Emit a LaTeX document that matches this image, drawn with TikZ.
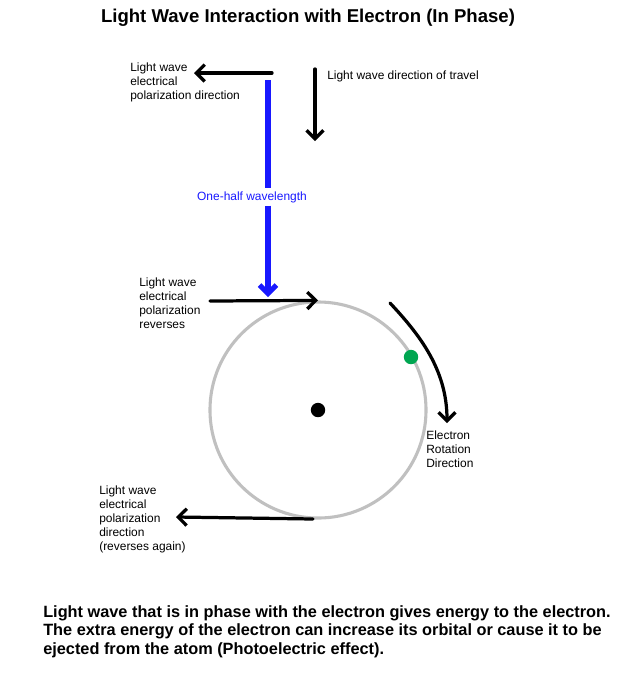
\documentclass[tikz,border=0pt]{standalone}
\usepackage{fontspec}
\setmainfont{Liberation Sans}
\usetikzlibrary{positioning,arrows.meta}
\usepackage{xcolor}
\definecolor{orbitgray}{RGB}{192,192,192}
\definecolor{electrongreen}{RGB}{0,166,81}
\definecolor{waveblue}{RGB}{24,24,255}

\begin{document}
\begin{tikzpicture}[x=0.025cm,y=-0.025cm,
    lbl/.style={anchor=north west,align=left,inner sep=0,font=\fontsize{8.5}{9.9}\selectfont},
    bigarrow/.style={-{Straight Barb[length=6pt,width=12pt]},line width=2.3pt,line cap=round},
    halfline/.style={line width=3.6pt,waveblue},
]
\useasboundingbox (0,0) rectangle (617,685);
\node[font=\fontsize{13.2}{15}\selectfont\bfseries] (title) at (308,18) {Light Wave Interaction with Electron (In Phase)};
% top of the wave
\node[lbl] (polLbl) at (130,63) {Light wave\\electrical\\polarization direction};
\node[lbl] (travelLbl) at (327,71) {Light wave direction of travel};
\coordinate (polStart) at (272,73);
\coordinate (polEnd) at (194,73);
\coordinate (travelStart) at (315,69);
\coordinate (travelEnd) at (315,141);
\draw[bigarrow] (polStart) -- (polEnd);
\draw[bigarrow] (travelStart) -- (travelEnd);
% half wavelength
\node[waveblue,font=\fontsize{8.5}{9.9}\selectfont,inner sep=2pt] (half) at (252,197) {One-half wavelength};
\coordinate (halfTop) at (268,80);
\coordinate (halfEnd) at (268,297);
\draw[halfline] (halfTop) -- (halfTop |- half.north);
\draw[halfline,-{Straight Barb[length=6pt,width=12pt]}] (halfTop |- half.south) -- (halfEnd);
% atom
\node[circle,draw=orbitgray,line width=2.2pt,minimum size=5.4cm,inner sep=0] (orbit) at (318,410) {};
\node[circle,fill=black,minimum size=0.36cm,inner sep=0] (nucleus) at (318,410) {};
\node[circle,fill=electrongreen,minimum size=0.36cm,inner sep=0] (electron) at (411,357) {};
\node[lbl] (revLbl) at (139,278) {Light wave\\electrical\\polarization\\reverses};
\coordinate (revStart) at (210,301);
\draw[bigarrow] (revStart) -- (orbit.north);
\coordinate (spinStart) at (390,303);
\coordinate (spinEnd) at (447,423);
\draw[bigarrow] (spinStart) .. controls (420,335) and (447,370) .. (spinEnd);
\node[lbl] (spinLbl) at (426,431) {Electron\\Rotation\\Direction};
\node[lbl] (againLbl) at (99,486) {Light wave\\electrical\\polarization\\direction\\(reverses again)};
\coordinate (againStart) at (313,519);
\coordinate (againEnd) at (176,517);
\draw[bigarrow] (againStart) -- (againEnd);
% caption
\node[anchor=north west,align=left,inner sep=0,font=\fontsize{11.6}{13.3}\selectfont\bfseries] (caption) at (43,605)
  {Light wave that is in phase with the electron gives energy to the electron.\\The extra energy of the electron can increase its orbital or cause it to be\\ejected from the atom (Photoelectric effect).};
\end{tikzpicture}
\end{document}
